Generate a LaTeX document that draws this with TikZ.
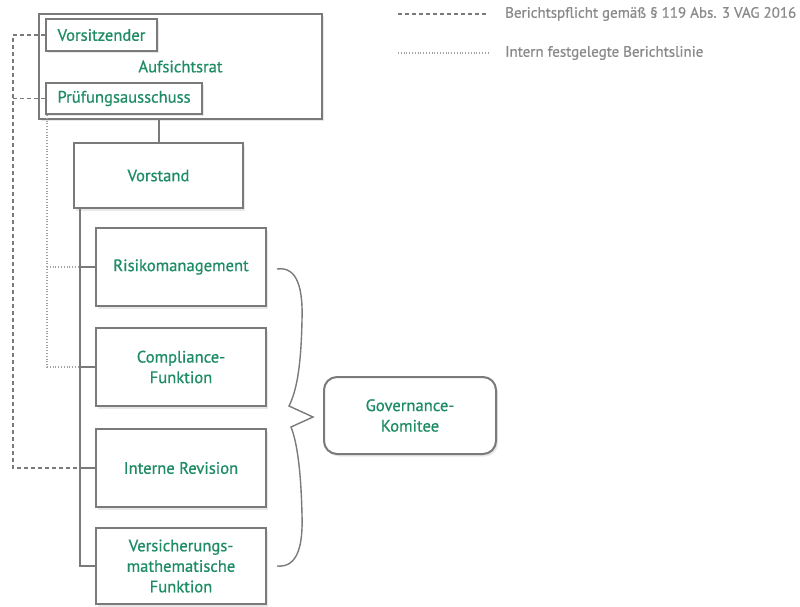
\documentclass[tikz,border=0pt]{standalone}
\usepackage{fontspec}
\setmainfont{PT Sans}
\newfontfamily\boxfont{PT Sans}[FakeBold=0.7]
\usetikzlibrary{shadows}
\definecolor{tgreen}{HTML}{1E8C64}
\definecolor{lgray}{HTML}{7A7A7A}
\definecolor{tgray}{HTML}{8A8A8A}
\tikzset{
  box/.style={draw=lgray, line width=2pt, fill=white, text=tgreen, align=center,
    font=\boxfont\fontsize{16.6}{20.5}\selectfont, inner sep=0pt,
    drop shadow={shadow xshift=2pt, shadow yshift=-2.5pt, opacity=0.18, fill=gray}},
  conn/.style={draw=lgray, line width=2pt},
  dashline/.style={draw=lgray, line width=1.6pt, dash pattern=on 4pt off 3pt},
  dotline/.style={draw=tgray!80, line width=1.4pt, dash pattern=on 1pt off 1.8pt},
  legend/.style={text=tgray, anchor=west, font=\boxfont\fontsize{15}{18}\selectfont, inner sep=0pt}
}
\begin{document}
\begin{tikzpicture}[x=1pt,y=-1pt]
\useasboundingbox (0,0) rectangle (800,607);
% boxes
\node[box, minimum width=283pt, minimum height=105pt] (auf) at (180.5,66.5) {Aufsichtsrat};
\node[box, minimum width=111pt, minimum height=32pt] (vors) at (101.5,35) {Vorsitzender};
\node[box, minimum width=156pt, minimum height=31pt] (pruef) at (124,98.5) {Prüfungsausschuss};
\node[box, minimum width=169pt, minimum height=65pt] (vorstand) at (158.5,175.5) {Vorstand};
\node[box, minimum width=170pt, minimum height=78pt] (risk) at (181,267) {Risikomanagement};
\node[box, minimum width=170pt, minimum height=78pt] (comp) at (181,367) {Compliance-\\Funktion};
\node[box, minimum width=170pt, minimum height=78pt] (rev) at (181,468) {Interne Revision};
\node[box, minimum width=170pt, minimum height=76pt] (vers) at (181,566) {Versicherungs-\\mathematische\\Funktion};
\node[box, rounded corners=13pt, minimum width=172pt, minimum height=77pt] (gov) at (410,415.5) {Governance-\\Komitee};
% coordinates
\coordinate (sp) at (80,0);
\coordinate (dl) at (13,0);
\coordinate (dt) at (47,0);
% solid connectors
\draw[conn] (vorstand.north) -- (vorstand.north |- auf.south);
\draw[conn] (sp |- vorstand.south) -- (sp |- vers.west) -- (vers.west);
\draw[conn] (sp |- risk.west) -- (risk.west);
\draw[conn] (sp |- comp.west) -- (comp.west);
\draw[conn] (sp |- rev.west) -- (rev.west);
% dashed reporting lines
\draw[dashline] (vors.west) -- (dl |- vors.west) -- (dl |- rev.west) -- (sp |- rev.west);
\draw[dashline] (pruef.west) -- (dl |- pruef.west);
% dotted reporting lines
\draw[dotline] (dt |- pruef.south) -- (dt |- comp.west) -- (sp |- comp.west);
\draw[dotline] (dt |- risk.west) -- (sp |- risk.west);
% brace
\draw[lgray, line width=1.4pt] (277,269) .. controls (298,266) and (303,290) .. (302,320)
  .. controls (301,370) and (296,392) .. (289,406) -- (313,417) -- (291,427)
  .. controls (297,442) and (301,470) .. (302,515)
  .. controls (303,545) and (298,568) .. (277,566);
% legend
\coordinate (l1a) at (398,14);
\coordinate (l1b) at (488,14);
\coordinate (l2a) at (398,53);
\coordinate (l2b) at (488,53);
\draw[dashline, line width=1.4pt] (l1a) -- (l1b);
\draw[dotline] (l2a) -- (l2b);
\node[legend] (leg1) at (505,14) {Berichtspflicht gemäß § 119 Abs. 3 VAG 2016};
\node[legend] (leg2) at (505,53) {Intern festgelegte Berichtslinie};
\end{tikzpicture}
\end{document}
